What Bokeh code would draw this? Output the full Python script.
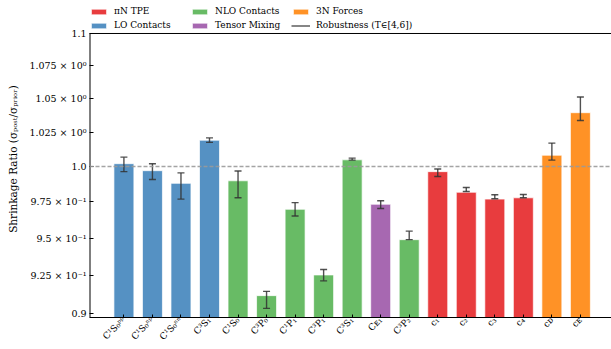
import math
import numpy as np
from bokeh.plotting import figure
from bokeh.models import (ColumnDataSource, Range1d, FixedTicker, Span, Legend,
                          LegendItem, CDSView, GroupFilter)
from bokeh.embed import file_html
from bokeh.resources import INLINE

# Low-energy constants and their posterior/prior width ratio
labels = ["C¹S₀ᵖᵖ", "C¹S₀ⁿᵖ", "C¹S₀ⁿⁿ", "C³S₁", "C¹S₀", "C³P₀", "C¹P₁", "C³P₁",
          "C³S₁", "Cᴇ₁", "C³P₂", "c₁", "c₂", "c₃", "c₄", "cᴅ", "cᴇ"]
groups = ["LO", "LO", "LO", "LO", "NLO", "NLO", "NLO", "NLO", "NLO", "Tensor",
          "NLO", "TPE", "TPE", "TPE", "TPE", "3N", "3N"]
ratio = [1.0020, 0.9970, 0.9880, 1.0190, 0.9898, 0.9116, 0.9698, 0.9252, 1.0048,
         0.9733, 0.9489, 0.9963, 0.9817, 0.9769, 0.9778, 1.0081, 1.0393]
# Spread of the ratio over T in [4, 6]
robust_lo = [0.9963, 0.9907, 0.9769, 1.0174, 0.9778, 0.9033, 0.9651, 0.9213, 1.0046,
             0.9703, 0.9489, 0.9928, 0.9822, 0.9771, 0.9778, 1.0046, 1.0335]
robust_hi = [1.0067, 1.0020, 0.9954, 1.0207, 0.9968, 0.9144, 0.9744, 0.9288, 1.0060,
             0.9757, 0.9547, 0.9982, 0.9850, 0.9799, 0.9801, 1.0169, 1.0511]

group_names = ["TPE", "LO", "NLO", "Tensor", "3N"]
group_labels = ["πN TPE", "LO Contacts", "NLO Contacts", "Tensor Mixing", "3N Forces"]
group_colors = ["#e41a1c", "#377eb8", "#4daf4a", "#984ea3", "#ff7f00"]

y_ticks = [0.9, 0.925, 0.95, 0.975, 1.0, 1.025, 1.05, 1.075, 1.1]
y_tick_labels = ["0.9", "9.25 × 10⁻¹", "9.5 × 10⁻¹", "9.75 × 10⁻¹", "1.0",
                 "1.025 × 10⁰", "1.05 × 10⁰", "1.075 × 10⁰", "1.1"]

FONT = "DejaVu Serif"
ERR_COLOR = "#333333"
# axes box runs from Y_START up to Y_AXIS_TOP; the frame continues above it
# to leave room for the legend
X_START, X_END = -1.206, 17.09
Y_START, Y_AXIS_TOP, Y_FRAME_TOP = 0.89742, 1.1, 1.12632
FRAME_H = 317

color_of = dict(zip(group_names, group_colors))
x = np.arange(len(labels))

src = ColumnDataSource(dict(
    x=x, top=ratio, lo=robust_lo, hi=robust_hi, group=groups,
    color=[color_of[g] for g in groups],
))

p = figure(frame_width=522, frame_height=FRAME_H, output_backend="svg",
           toolbar_location=None,
           x_range=Range1d(X_START, X_END), y_range=Range1d(Y_START, Y_FRAME_TOP),
           y_axis_type="log",
           min_border_left=89, min_border_top=0, min_border_right=0,
           min_border_bottom=0)
p.background_fill_color = "white"
p.border_fill_color = "white"
p.outline_line_color = None
p.xgrid.visible = False
p.ygrid.visible = False

# bars, one renderer per group of constants
bar_renderers = {}
for g in group_names:
    bar_renderers[g] = p.vbar(
        x="x", top="top", bottom=0.8, width=0.7, source=src,
        view=CDSView(filter=GroupFilter(column_name="group", group=g)),
        fill_color="color", fill_alpha=0.85, line_color="white", line_alpha=0.7,
        line_width=1)

p.add_layout(Span(location=1.0, dimension="width", line_color="#9a9a9a",
                  line_dash="4 2", line_width=1.3, line_alpha=0.9))

# robustness ranges: stems and caps
err = p.segment(x0="x", y0="lo", x1="x", y1="hi", source=src,
                line_color=ERR_COLOR, line_width=1.4, line_alpha=0.85)
for col in ("lo", "hi"):
    p.scatter(x="x", y=col, source=src, marker="dash", size=7,
              line_color=ERR_COLOR, line_width=1.4, line_alpha=0.85)

# left and top spines of the axes box
p.segment(x0=[X_START, X_START], y0=[Y_START, Y_AXIS_TOP],
          x1=[X_START, X_END], y1=[Y_AXIS_TOP, Y_AXIS_TOP],
          line_color="black", line_width=[2, 1])

# y axis
ya = p.yaxis[0]
ya.ticker = FixedTicker(ticks=y_ticks)
ya.major_label_overrides = dict(zip(y_ticks, y_tick_labels))
ya.major_tick_in = 4
ya.major_tick_out = 0
ya.minor_tick_line_color = None
ya.major_label_standoff = 3
ya.major_label_text_font = FONT
ya.major_label_text_font_size = "9.5px"
ya.major_label_text_color = "black"
ya.axis_label = "Shrinkage Ratio (σₚₒₛₜ/σₚᵣᵢₒᵣ)"
ya.axis_label_text_font = FONT
ya.axis_label_text_font_size = "10.5px"
ya.axis_label_text_font_style = "normal"
ya.axis_label_text_color = "black"
ya.axis_label_standoff = 7
ya.axis_line_color = None

# x axis with rotated constant names
xa = p.xaxis[0]
xa.ticker = FixedTicker(ticks=list(x))
xa.major_label_overrides = {int(i): lab for i, lab in zip(x, labels)}
xa.major_tick_in = 3
xa.major_tick_out = 0
xa.minor_tick_line_color = None
xa.major_label_orientation = math.pi / 4
xa.major_label_standoff = 1
xa.major_label_text_font = FONT
xa.major_label_text_font_size = "9px"
xa.major_label_text_color = "black"
xa.axis_line_color = "black"

# legend
items = [LegendItem(label=lab, renderers=[bar_renderers[g]])
         for g, lab in zip(group_names, group_labels)]
items.append(LegendItem(label="Robustness (T∈[4,6])", renderers=[err]))

legend = Legend(items=items, location=(0, FRAME_H - 31), orientation="vertical", nrows=2,
                padding=0, margin=0, spacing=2, label_standoff=6, label_width=74,
                glyph_width=19, glyph_height=7, label_height=12,
                label_text_font=FONT, label_text_font_size="9px",
                label_text_color="black",
                background_fill_alpha=0, border_line_color=None)
p.add_layout(legend, "center")

open("out.html", "w").write(file_html(p, INLINE))
